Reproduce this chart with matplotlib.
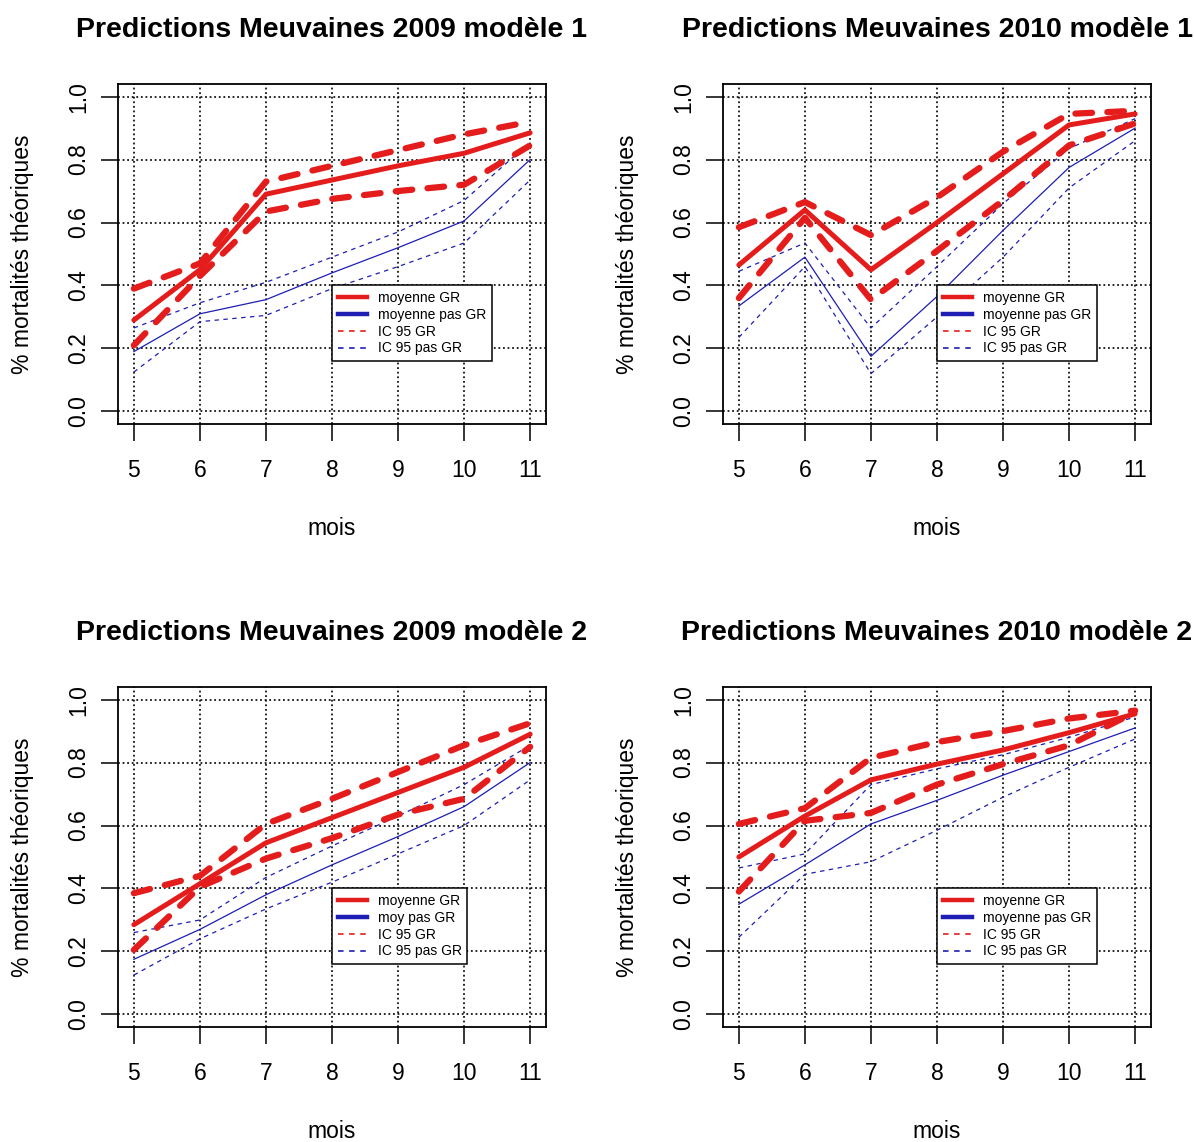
import matplotlib
matplotlib.use("Agg")
import matplotlib.pyplot as plt
from matplotlib.lines import Line2D

plt.rcParams['font.family'] = ['Liberation Sans', 'DejaVu Sans']
plt.rcParams['lines.scale_dashes'] = False

mois = [5, 6, 7, 8, 9, 10, 11]
y_ticks = [0.0, 0.2, 0.4, 0.6, 0.8, 1.0]
y_tick_labels = ["0.0", "0.2", "0.4", "0.6", "0.8", "1.0"]

titles = ["Predictions Meuvaines 2009 modèle 1",
          "Predictions Meuvaines 2010 modèle 1",
          "Predictions Meuvaines 2009 modèle 2",
          "Predictions Meuvaines 2010 modèle 2"]

legend_labels_std = ["moyenne GR", "moyenne pas GR", "IC 95 GR", "IC 95 pas GR"]
legend_labels_short = ["moyenne GR", "moy pas GR", "IC 95 GR", "IC 95 pas GR"]

# Panel 1 : 2009 modele 1
gr_mean_2009_m1 = [0.29, 0.45, 0.69, 0.735, 0.78, 0.82, 0.885]
gr_up_2009_m1 = [0.39, 0.47, 0.73, 0.78, 0.83, 0.88, 0.92]
gr_lo_2009_m1 = [0.21, 0.43, 0.635, 0.675, 0.70, 0.72, 0.845]
pgr_mean_2009_m1 = [0.19, 0.31, 0.355, 0.44, 0.52, 0.605, 0.80]
pgr_up_2009_m1 = [0.265, 0.345, 0.41, 0.49, 0.57, 0.67, 0.855]
pgr_lo_2009_m1 = [0.125, 0.285, 0.305, 0.39, 0.46, 0.535, 0.735]

# Panel 2 : 2010 modele 1
gr_mean_2010_m1 = [0.465, 0.64, 0.45, 0.60, 0.755, 0.91, 0.945]
gr_up_2010_m1 = [0.585, 0.665, 0.56, 0.68, 0.825, 0.945, 0.955]
gr_lo_2010_m1 = [0.36, 0.615, 0.355, 0.51, 0.67, 0.845, 0.915]
pgr_mean_2010_m1 = [0.335, 0.49, 0.175, 0.365, 0.575, 0.775, 0.90]
pgr_up_2010_m1 = [0.445, 0.535, 0.265, 0.46, 0.66, 0.835, 0.93]
pgr_lo_2010_m1 = [0.235, 0.46, 0.12, 0.30, 0.49, 0.71, 0.86]

# Panel 3 : 2009 modele 2
gr_mean_2009_m2 = [0.285, 0.415, 0.545, 0.625, 0.705, 0.785, 0.89]
gr_up_2009_m2 = [0.385, 0.44, 0.605, 0.685, 0.77, 0.855, 0.925]
gr_lo_2009_m2 = [0.205, 0.405, 0.495, 0.56, 0.635, 0.685, 0.85]
pgr_mean_2009_m2 = [0.175, 0.27, 0.38, 0.475, 0.565, 0.66, 0.80]
pgr_up_2009_m2 = [0.26, 0.30, 0.435, 0.535, 0.63, 0.73, 0.855]
pgr_lo_2009_m2 = [0.125, 0.24, 0.335, 0.42, 0.51, 0.60, 0.745]

# Panel 4 : 2010 modele 2
gr_mean_2010_m2 = [0.50, 0.63, 0.745, 0.795, 0.84, 0.895, 0.955]
gr_up_2010_m2 = [0.605, 0.655, 0.815, 0.865, 0.90, 0.94, 0.965]
gr_lo_2010_m2 = [0.39, 0.615, 0.64, 0.73, 0.795, 0.855, 0.96]
pgr_mean_2010_m2 = [0.35, 0.475, 0.605, 0.68, 0.76, 0.835, 0.91]
pgr_up_2010_m2 = [0.465, 0.51, 0.73, 0.78, 0.825, 0.88, 0.945]
pgr_lo_2010_m2 = [0.245, 0.445, 0.485, 0.585, 0.69, 0.785, 0.875]

panels = [
    (titles[0], gr_mean_2009_m1, gr_up_2009_m1, gr_lo_2009_m1,
     pgr_mean_2009_m1, pgr_up_2009_m1, pgr_lo_2009_m1, legend_labels_std),
    (titles[1], gr_mean_2010_m1, gr_up_2010_m1, gr_lo_2010_m1,
     pgr_mean_2010_m1, pgr_up_2010_m1, pgr_lo_2010_m1, legend_labels_std),
    (titles[2], gr_mean_2009_m2, gr_up_2009_m2, gr_lo_2009_m2,
     pgr_mean_2009_m2, pgr_up_2009_m2, pgr_lo_2009_m2, legend_labels_short),
    (titles[3], gr_mean_2010_m2, gr_up_2010_m2, gr_lo_2010_m2,
     pgr_mean_2010_m2, pgr_up_2010_m2, pgr_lo_2010_m2, legend_labels_std),
]

RED = '#e41c1c'
BLUE = '#1e1eb4'

W, H = 1194, 1142
fig = plt.figure(figsize=(W / 100, H / 100), dpi=100)

boxes = [(118, 84), (723, 84), (118, 687), (723, 687)]
aw, ah = 428, 340

for (left, top), (title, gm, gu, gl, pm, pu, pl, labs) in zip(boxes, panels):
    ax = fig.add_axes([left / W, 1 - (top + ah) / H, aw / W, ah / H])
    ax.set_xlim(4.76, 11.24)
    ax.set_ylim(-0.04, 1.04)
    # grid
    for xv in mois:
        ax.axvline(xv, color='black', lw=1.2, dashes=(1.3, 2.0), zorder=1)
    for yv in y_ticks:
        ax.axhline(yv, color='black', lw=1.2, dashes=(1.3, 2.0), zorder=1)
    # curves
    ax.plot(mois, pu, color=BLUE, lw=0.9, dashes=(3.2, 3.2), zorder=2)
    ax.plot(mois, pl, color=BLUE, lw=0.9, dashes=(3.2, 3.2), zorder=2)
    ax.plot(mois, pm, color=BLUE, lw=0.9, zorder=2)
    ax.plot(mois, gu, color=RED, lw=4.5, dashes=(12, 11), zorder=3,
            dash_capstyle='round')
    ax.plot(mois, gl, color=RED, lw=4.5, dashes=(12, 11), zorder=3,
            dash_capstyle='round')
    ax.plot(mois, gm, color=RED, lw=3.6, zorder=4, solid_capstyle='round')

    ax.set_xticks(mois)
    ax.set_xticklabels([str(m) for m in mois])
    ax.set_yticks(y_ticks)
    ax.set_yticklabels(y_tick_labels, rotation=90, va='center')
    ax.tick_params(axis='both', direction='out', length=12, width=1.1,
                   labelsize=16.5, color='black')
    ax.tick_params(axis='x', pad=13)
    ax.tick_params(axis='y', pad=8)
    for sp in ax.spines.values():
        sp.set_linewidth(1.3)
        sp.set_color('black')

    ax.set_title(title, fontsize=20.5, fontweight='bold', y=1.135, va='center')
    ax.set_xlabel("mois", fontsize=16.5)
    ax.xaxis.set_label_coords(0.5, -0.306)
    ax.xaxis.label.set_va('center')
    ax.set_ylabel("% mortalités théoriques", fontsize=16.5)
    ax.yaxis.set_label_coords(-0.224, 0.5)
    ax.yaxis.label.set_va('center')

    handles = [Line2D([], [], color=RED, lw=3.2),
               Line2D([], [], color=BLUE, lw=3.2),
               Line2D([], [], color=RED, lw=1.2, dashes=(4, 4)),
               Line2D([], [], color=BLUE, lw=1.2, dashes=(4, 4))]
    leg = ax.legend(handles, labs, loc='upper left',
                    bbox_to_anchor=(8.0, 0.4), bbox_transform=ax.transData,
                    fontsize=10, frameon=True, fancybox=False, framealpha=1,
                    edgecolor='black', borderaxespad=0, borderpad=0.4,
                    labelspacing=0.2, handlelength=2.1, handletextpad=0.8)
    leg.get_frame().set_linewidth(1.1)
    leg.set_zorder(10)

fig.savefig("out.png", dpi=100, facecolor='white')
